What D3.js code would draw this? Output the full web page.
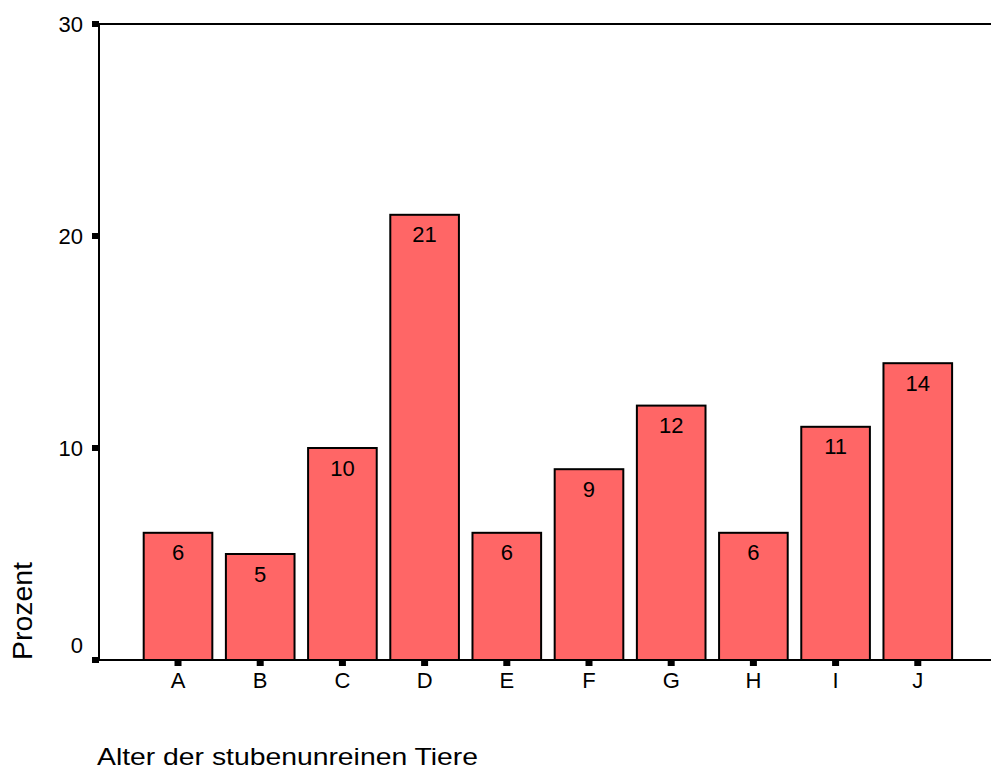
<!DOCTYPE html>
<html>
<head>
<meta charset="utf-8">
<script src="https://cdn.jsdelivr.net/npm/d3@7"></script>
<style>
  html, body { margin: 0; padding: 0; background: #fff; }
  svg { display: block; }
  text { font-family: "Liberation Sans", Arial, sans-serif; fill: #000; }
</style>
</head>
<body>
<svg id="chart" width="991" height="770"></svg>
<script>
// Age groups and their share (percent)
const categories = ["A", "B", "C", "D", "E", "F", "G", "H", "I", "J"];
const percentages = [6, 5, 10, 21, 6, 9, 12, 6, 11, 14];
const yTicks = [0, 10, 20, 30];
const yTitle = "Prozent";
const xTitle = "Alter der stubenunreinen Tiere";

const svg = d3.select("#chart");
const plot = { left: 99, right: 991, top: 24, bottom: 660 };

const x = d3.scaleBand()
  .domain(categories)
  .range([136.9, 958.9])
  .paddingInner(0.165)
  .paddingOuter(0.0827);

const y = d3.scaleLinear()
  .domain([0, 30])
  .range([plot.bottom, plot.top]);

// Bars
svg.append("g").selectAll("rect")
  .data(categories)
  .join("rect")
  .attr("x", d => x(d))
  .attr("y", (d, i) => y(percentages[i]))
  .attr("width", x.bandwidth())
  .attr("height", (d, i) => y(0) - y(percentages[i]))
  .attr("fill", "#ff6666")
  .attr("stroke", "#000")
  .attr("stroke-width", 2);

// Value labels inside each bar
svg.append("g").selectAll("text")
  .data(categories)
  .join("text")
  .attr("x", d => x(d) + x.bandwidth() / 2)
  .attr("y", (d, i) => y(percentages[i]) + 27.5)
  .attr("text-anchor", "middle")
  .attr("font-size", 22)
  .text((d, i) => percentages[i]);

// Frame lines: left axis, baseline, top line
const frame = svg.append("g").attr("stroke", "#000").attr("stroke-width", 2);
frame.append("line").attr("x1", plot.left).attr("x2", plot.left)
  .attr("y1", plot.top).attr("y2", plot.bottom);
frame.append("line").attr("x1", plot.left).attr("x2", plot.right)
  .attr("y1", plot.bottom).attr("y2", plot.bottom);
frame.append("line").attr("x1", plot.left).attr("x2", plot.right)
  .attr("y1", plot.top).attr("y2", plot.top);

// Y axis ticks (square markers) and labels; the 0 label sits above its tick
const yAxis = svg.append("g");
yAxis.selectAll("rect")
  .data(yTicks)
  .join("rect")
  .attr("x", plot.left - 7)
  .attr("y", d => y(d) - 3)
  .attr("width", 7)
  .attr("height", 6)
  .attr("fill", "#000");
yAxis.selectAll("text")
  .data(yTicks)
  .join("text")
  .attr("x", 83)
  .attr("y", d => d === 0 ? y(d) - 7 : y(d) + 8)
  .attr("text-anchor", "end")
  .attr("font-size", 22)
  .text(d => d);

// X axis ticks (square markers) and labels
const xAxis = svg.append("g");
xAxis.selectAll("rect")
  .data(categories)
  .join("rect")
  .attr("x", d => x(d) + x.bandwidth() / 2 - 3.5)
  .attr("y", plot.bottom)
  .attr("width", 7)
  .attr("height", 6)
  .attr("fill", "#000");
xAxis.selectAll("text")
  .data(categories)
  .join("text")
  .attr("x", d => x(d) + x.bandwidth() / 2)
  .attr("y", plot.bottom + 28)
  .attr("text-anchor", "middle")
  .attr("font-size", 22)
  .text(d => d);

// Axis titles
svg.append("text")
  .attr("transform", `translate(32, ${plot.bottom}) rotate(-90)`)
  .attr("text-anchor", "start")
  .attr("font-size", 27)
  .attr("textLength", 98)
  .attr("lengthAdjust", "spacingAndGlyphs")
  .text(yTitle);

svg.append("text")
  .attr("x", 97)
  .attr("y", 765)
  .attr("font-size", 24)
  .attr("textLength", 381)
  .attr("lengthAdjust", "spacingAndGlyphs")
  .text(xTitle);
</script>
</body>
</html>
